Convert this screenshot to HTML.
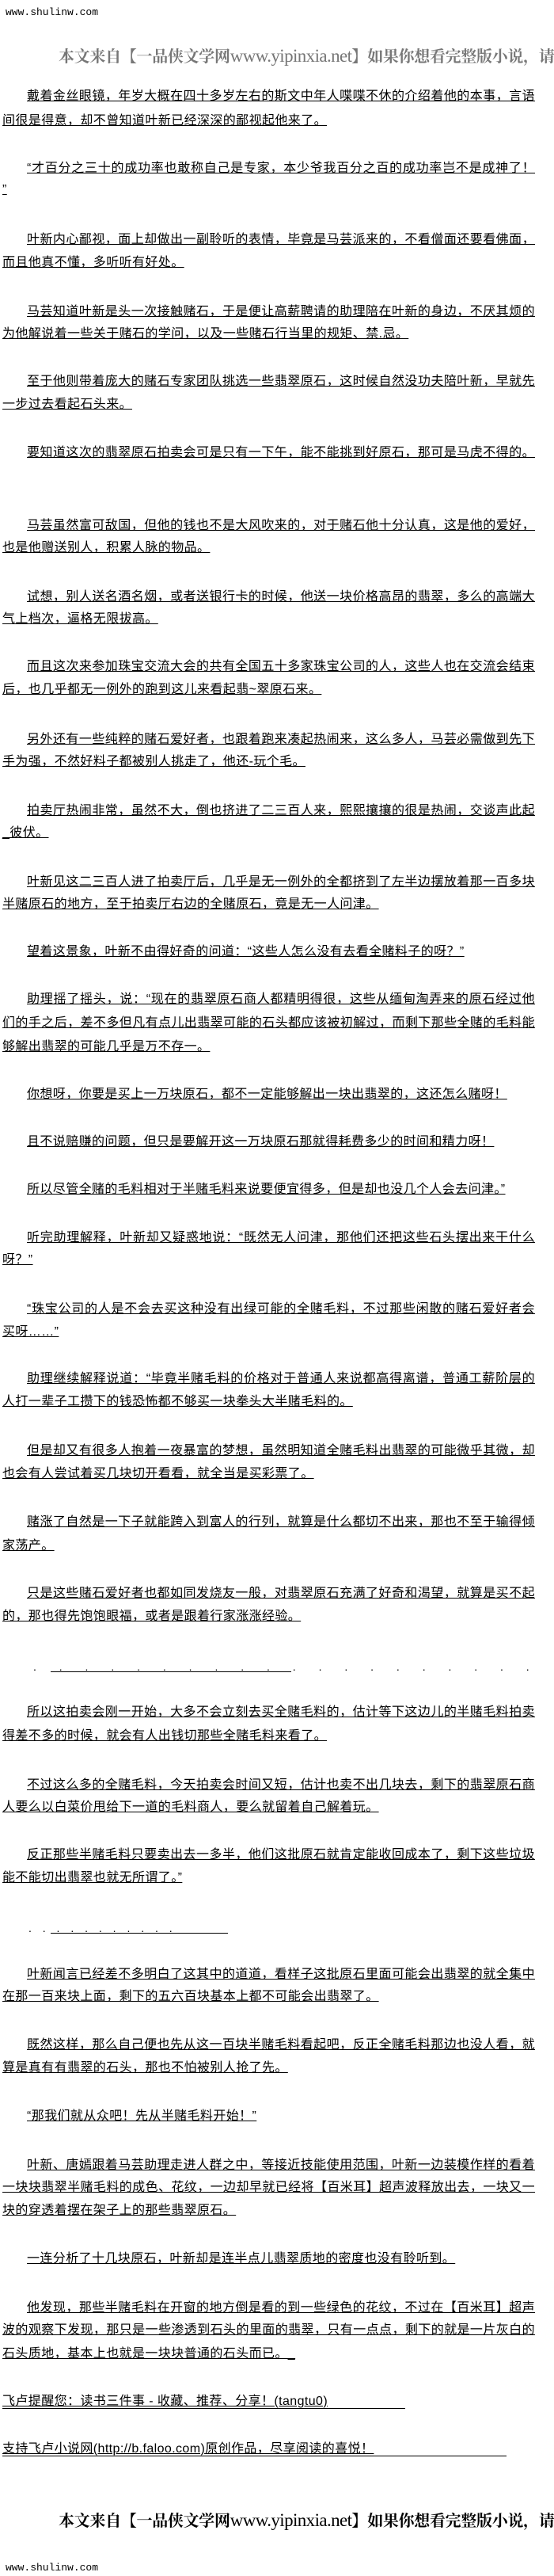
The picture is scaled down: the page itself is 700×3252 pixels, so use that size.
<!DOCTYPE html>
<html><head><meta charset="utf-8">
<style>
html,body{margin:0;padding:0;background:#fff;}
body{width:700px;height:3252px;position:relative;overflow:hidden;}
.l{position:absolute;height:18px;line-height:18px;font-size:16px;letter-spacing:0.4px;color:#000;
 font-family:"Liberation Sans","Noto Sans CJK SC","WenQuanYi Zen Hei",sans-serif;white-space:nowrap;
 text-decoration:underline;text-underline-offset:1px;}
.i{left:34px;}
.c{left:3px;}
.f{width:642px;text-align:justify;text-align-last:justify;}
.c.f{width:673px;}
.w{position:absolute;left:7px;font-family:"Liberation Mono",monospace;font-size:13px;color:#000;letter-spacing:0px;}
.hd{position:absolute;left:74px;white-space:nowrap;font-family:"Noto Serif CJK SC","Liberation Serif",serif;font-weight:bold;}
.hd .z{font-size:20px;letter-spacing:-0.3px;}
.hd .e{font-family:"Liberation Serif",serif;font-size:23px;font-weight:normal;letter-spacing:-0.6px;}
.dots{position:absolute;height:1px;background:#000;}
</style></head><body>
<div class="w" style="top:8px">www.shulinw.com</div>
<div class="hd" style="top:55px;color:#777"><span class="z">本文来自【一品侠文学网</span><span class="e">www.yipinxia.net</span><span class="z">】如果你想看完整版小说，请</span></div>

<div class="l i f" style="top:113px">戴着金丝眼镜，年岁大概在四十多岁左右的斯文中年人喋喋不休的介绍着他的本事，言语</div>
<div class="l c" style="top:144px">间很是得意，却不曾知道叶新已经深深的鄙视起他来了。</div>
<div class="l i f" style="top:204px">“才百分之三十的成功率也敢称自己是专家，本少爷我百分之百的成功率岂不是成神了！</div>
<div class="l c" style="top:231px">”</div>
<div class="l i f" style="top:294px">叶新内心鄙视，面上却做出一副聆听的表情，毕竟是马芸派来的，不看僧面还要看佛面，</div>
<div class="l c" style="top:323px">而且他真不懂，多听听有好处。</div>
<div class="l i f" style="top:385px">马芸知道叶新是头一次接触赌石，于是便让高薪聘请的助理陪在叶新的身边，不厌其烦的</div>
<div class="l c" style="top:413px">为他解说着一些关于赌石的学问，以及一些赌石行当里的规矩、禁.忌。</div>
<div class="l i f" style="top:473px">至于他则带着庞大的赌石专家团队挑选一些翡翠原石，这时候自然没功夫陪叶新，早就先</div>
<div class="l c" style="top:502px">一步过去看起石头来。</div>
<div class="l i f" style="top:563px">要知道这次的翡翠原石拍卖会可是只有一下午，能不能挑到好原石，那可是马虎不得的。</div>
<div class="l i f" style="top:655px">马芸虽然富可敌国，但他的钱也不是大风吹来的，对于赌石他十分认真，这是他的爱好，</div>
<div class="l c" style="top:683px">也是他赠送别人，积累人脉的物品。</div>
<div class="l i f" style="top:745px">试想，别人送名酒名烟，或者送银行卡的时候，他送一块价格高昂的翡翠，多么的高端大</div>
<div class="l c" style="top:773px">气上档次，逼格无限拔高。</div>
<div class="l i f" style="top:833px">而且这次来参加珠宝交流大会的共有全国五十多家珠宝公司的人，这些人也在交流会结束</div>
<div class="l c" style="top:862px">后，也几乎都无一例外的跑到这儿来看起翡~翠原石来。</div>
<div class="l i f" style="top:925px">另外还有一些纯粹的赌石爱好者，也跟着跑来凑起热闹来，这么多人，马芸必需做到先下</div>
<div class="l c" style="top:953px">手为强，不然好料子都被别人挑走了，他还-玩个毛。</div>
<div class="l i f" style="top:1015px">拍卖厅热闹非常，虽然不大，倒也挤进了二三百人来，熙熙攘攘的很是热闹，交谈声此起</div>
<div class="l c" style="top:1043px">_彼伏。</div>
<div class="l i f" style="top:1105px">叶新见这二三百人进了拍卖厅后，几乎是无一例外的全都挤到了左半边摆放着那一百多块</div>
<div class="l c" style="top:1133px">半赌原石的地方，至于拍卖厅右边的全赌原石，竟是无一人问津。</div>
<div class="l i" style="top:1193px">望着这景象，叶新不由得好奇的问道：“这些人怎么没有去看全赌料子的呀？”</div>
<div class="l i f" style="top:1253px">助理摇了摇头，说：“现在的翡翠原石商人都精明得很，这些从缅甸淘弄来的原石经过他</div>
<div class="l c f" style="top:1283px">们的手之后，差不多但凡有点儿出翡翠可能的石头都应该被初解过，而剩下那些全赌的毛料能</div>
<div class="l c" style="top:1313px">够解出翡翠的可能几乎是万不存一。</div>
<div class="l i" style="top:1373px">你想呀，你要是买上一万块原石，都不一定能够解出一块出翡翠的，这还怎么赌呀！</div>
<div class="l i" style="top:1433px">且不说赔赚的问题，但只是要解开这一万块原石那就得耗费多少的时间和精力呀！</div>
<div class="l i" style="top:1493px">所以尽管全赌的毛料相对于半赌毛料来说要便宜得多，但是却也没几个人会去问津。”</div>
<div class="l i f" style="top:1554px">听完助理解释，叶新却又疑惑地说：“既然无人问津，那他们还把这些石头摆出来干什么</div>
<div class="l c" style="top:1582px">呀？”</div>
<div class="l i f" style="top:1644px">“珠宝公司的人是不会去买这种没有出绿可能的全赌毛料，不过那些闲散的赌石爱好者会</div>
<div class="l c" style="top:1673px">买呀……”</div>
<div class="l i f" style="top:1732px">助理继续解释说道：“毕竟半赌毛料的价格对于普通人来说都高得离谱，普通工薪阶层的</div>
<div class="l c" style="top:1761px">人打一辈子工攒下的钱恐怖都不够买一块拳头大半赌毛料的。</div>
<div class="l i f" style="top:1823px">但是却又有很多人抱着一夜暴富的梦想，虽然明知道全赌毛料出翡翠的可能微乎其微，却</div>
<div class="l c" style="top:1852px">也会有人尝试着买几块切开看看，就全当是买彩票了。</div>
<div class="l i f" style="top:1913px">赌涨了自然是一下子就能跨入到富人的行列，就算是什么都切不出来，那也不至于输得倾</div>
<div class="l c" style="top:1943px">家荡产。</div>
<div class="l i f" style="top:2003px">只是这些赌石爱好者也都如同发烧友一般，对翡翠原石充满了好奇和渴望，就算是买不起</div>
<div class="l c" style="top:2032px">的，那也得先饱饱眼福，或者是跟着行家涨涨经验。</div>
<div style="position:absolute;top:2096px;left:42px;font-size:14px;letter-spacing:12.5px;font-family:'Liberation Sans',sans-serif">. . . . . . . . . . . . . . . . . . . .</div>
<div class="dots" style="top:2110px;left:64px;width:304px"></div>
<div class="l i f" style="top:2153px">所以这拍卖会刚一开始，大多不会立刻去买全赌毛料的，估计等下这边儿的半赌毛料拍卖</div>
<div class="l c" style="top:2183px">得差不多的时候，就会有人出钱切那些全赌毛料来看了。</div>
<div class="l i f" style="top:2245px">不过这么多的全赌毛料，今天拍卖会时间又短，估计也卖不出几块去，剩下的翡翠原石商</div>
<div class="l c" style="top:2273px">人要么以白菜价甩给下一道的毛料商人，要么就留着自己解着玩。</div>
<div class="l i f" style="top:2333px">反正那些半赌毛料只要卖出去一多半，他们这批原石就肯定能收回成本了，剩下这些垃圾</div>
<div class="l c" style="top:2362px">能不能切出翡翠也就无所谓了。”</div>
<div style="position:absolute;top:2426px;left:36px;font-size:14px;letter-spacing:5px;font-family:'Liberation Sans',sans-serif">. . . . . . . . . . .</div>
<div class="dots" style="top:2440px;left:64px;width:224px"></div>
<div class="l i f" style="top:2484px">叶新闻言已经差不多明白了这其中的道道，看样子这批原石里面可能会出翡翠的就全集中</div>
<div class="l c" style="top:2512px">在那一百来块上面，剩下的五六百块基本上都不可能会出翡翠了。</div>
<div class="l i f" style="top:2573px">既然这样，那么自己便也先从这一百块半赌毛料看起吧，反正全赌毛料那边也没人看，就</div>
<div class="l c" style="top:2602px">算是真有有翡翠的石头，那也不怕被别人抢了先。</div>
<div class="l i" style="top:2663px">“那我们就从众吧！先从半赌毛料开始！”</div>
<div class="l i f" style="top:2725px">叶新、唐嫣跟着马芸助理走进人群之中，等接近技能使用范围，叶新一边装模作样的看着</div>
<div class="l c f" style="top:2753px">一块块翡翠半赌毛料的成色、花纹，一边却早就已经将【百米耳】超声波释放出去，一块又一</div>
<div class="l c" style="top:2782px">块的穿透着摆在架子上的那些翡翠原石。</div>
<div class="l i" style="top:2843px">一连分析了十几块原石，叶新却是连半点儿翡翠质地的密度也没有聆听到。</div>
<div class="l i f" style="top:2905px">他发现，那些半赌毛料在开窗的地方倒是看的到一些绿色的花纹，不过在【百米耳】超声</div>
<div class="l c f" style="top:2933px">波的观察下发现，那只是一些渗透到石头的里面的翡翠，只有一点点，剩下的就是一片灰白的</div>
<div class="l c" style="top:2963px">石头质地，基本上也就是一块块普通的石头而已。_</div>
<div class="l c" style="top:3023px">飞卢提醒您：读书三件事 - 收藏、推荐、分享！(tangtu0)</div>
<div class="dots" style="top:3040px;left:3px;width:509px"></div>
<div class="l c" style="top:3083px">支持飞卢小说网(http://b.faloo.com)原创作品，尽享阅读的喜悦！</div>
<div class="dots" style="top:3100px;left:3px;width:637px"></div>

<div class="hd" style="top:3166px;color:#000"><span class="z">本文来自【一品侠文学网</span><span class="e">www.yipinxia.net</span><span class="z">】如果你想看完整版小说，请</span></div>
<div class="w" style="top:3234px">www.shulinw.com</div>
</body></html>
